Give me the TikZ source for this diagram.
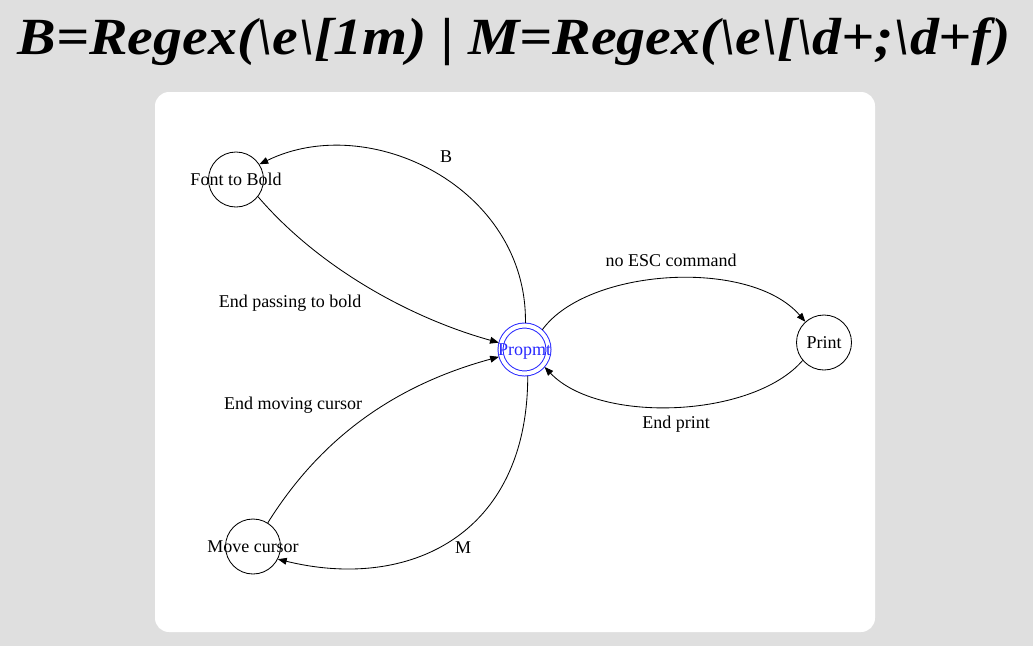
\documentclass[tikz,border=0pt]{standalone}
\usepackage{fontspec}
\setmainfont{Liberation Serif}
\usetikzlibrary{arrows.meta}
\definecolor{bggray}{RGB}{223,223,223}
\definecolor{stateblue}{RGB}{40,40,255}

\begin{document}
\begin{tikzpicture}[x=0.025cm,y=-0.025cm,line width=0.6pt,
  txt/.style={font=\fontsize{12.8}{15}\selectfont,inner sep=0pt},
  state/.style={circle,draw,minimum size=1.375cm,inner sep=0pt},
  >={Triangle[length=0.22cm,width=0.17cm]}]
\fill[bggray] (0,0) rectangle (1033,646);
\fill[white,rounded corners=0.35cm] (155,92) rectangle (875,632);
\node[inner sep=0pt] (T) at (514,41.5) {\resizebox*{24.8cm}{1.2cm}{\bfseries\itshape B=Regex(\textbackslash e\textbackslash[1m) | M=Regex(\textbackslash e\textbackslash[\textbackslash d+;\textbackslash d+f)}};
\node[state,label={[txt]center:Font to Bold}] (Bold) at (236,179.5) {};
\node[state,draw=stateblue,line width=0.7pt,double,double distance=0.1cm,minimum size=1.2cm,outer sep=0.065cm,
  label={[txt,text=stateblue,text depth=0pt]center:Propmt}] (Prompt) at (524.5,349.5) {};
\node[state,label={[txt]center:Print}] (Print) at (824,342.5) {};
\node[state,label={[txt]center:Move cursor}] (Move) at (253,546.5) {};
% transitions
\draw[->] (Prompt.88) .. controls +(2,-135) and +(110,-54) .. (Bold.33);
\draw[->] (Bold.-38) .. controls +(60,70) and +(-90,-25) .. (Prompt.165);
\draw[->] (Move.58) .. controls +(50,-80) and +(-110,30) .. (Prompt.196);
\draw[->] (Prompt.-83) .. controls +(0,160) and +(130,32) .. (Move.-27);
\draw[->] (Prompt.48) .. controls +(45,-62) and +(-55,-64) .. (Print.132);
\draw[->] (Print.-140) .. controls +(-50,58) and +(54,57) .. (Prompt.-41);
% labels
\node[txt] (lB) at (446,157) {B};
\node[txt] (lbold) at (290,303) {End passing to bold};
\node[txt] (lmove) at (293,405) {End moving cursor};
\node[txt] (lM) at (463,548) {M};
\node[txt] (lesc) at (671,260) {no ESC command};
\node[txt] (lprint) at (676,424) {End print};
\end{tikzpicture}
\end{document}
